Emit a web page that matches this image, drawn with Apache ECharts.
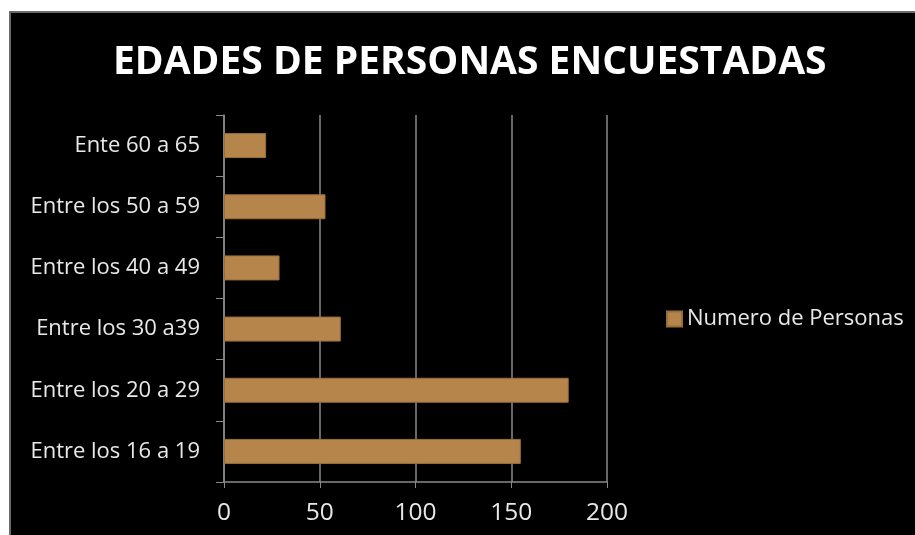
<!DOCTYPE html>
<html>
<head>
<meta charset="utf-8">
<script src="https://cdn.jsdelivr.net/npm/echarts@6/dist/echarts.min.js"></script>
<style>html,body{margin:0;padding:0;background:#fff;}#main{width:915px;height:535px;}</style>
</head>
<body>
<div id="main"></div>
<script>
const titleText = 'EDADES DE PERSONAS ENCUESTADAS';
const categories = ['Entre los 16 a 19', 'Entre los 20 a 29', 'Entre los 30 a39', 'Entre los 40 a 49', 'Entre los 50 a 59', 'Ente 60 a 65'];
const seriesName = 'Numero de Personas';
const values = [155, 180, 61, 29, 53, 22];
const xTicks = [0, 50, 100, 150, 200];

const chart = echarts.init(document.getElementById('main'));
const font = 'Open Sans, Noto Sans, sans-serif';
chart.setOption({
  backgroundColor: '#ffffff',
  animation: false,
  graphic: [{
    type: 'rect', z: -100, silent: true,
    shape: { x: 10, y: 12, width: 920, height: 540 },
    style: { fill: '#000', stroke: '#6a6a6a', lineWidth: 2 }
  }],
  title: {
    text: titleText, left: 108, top: 38,
    textStyle: { color: '#fff', fontSize: 39, fontWeight: 'bold', fontFamily: font }
  },
  legend: {
    data: [seriesName], orient: 'vertical', left: 661, top: 303,
    itemWidth: 15, itemHeight: 15, itemGap: 6,
    icon: 'rect',
    textStyle: { color: '#e8e8e8', fontSize: 22, fontFamily: font }
  },
  grid: { left: 224, right: 308, top: 115, bottom: 53, containLabel: false },
  xAxis: {
    type: 'value', min: xTicks[0], max: xTicks[xTicks.length - 1], interval: 50,
    axisLine: { show: true, lineStyle: { color: '#8a8a8a', width: 1.5 } },
    axisTick: { show: true, length: 6, lineStyle: { color: '#8a8a8a' } },
    splitLine: { show: true, lineStyle: { color: '#8a8a8a', width: 1.5 } },
    axisLabel: { color: '#e8e8e8', fontSize: 24.5, fontFamily: font, margin: 19 }
  },
  yAxis: {
    type: 'category', data: categories,
    axisLine: { show: true, lineStyle: { color: '#8a8a8a', width: 1.5 } },
    axisTick: { show: true, length: 8, alignWithLabel: false, lineStyle: { color: '#8a8a8a' } },
    axisLabel: { color: '#e8e8e8', fontSize: 22, fontFamily: font, margin: 24 }
  },
  series: [{
    name: seriesName, type: 'bar', data: values, barWidth: 25,
    itemStyle: { color: '#b5854b', borderColor: '#9a6e3a', borderWidth: 1 }
  }]
});
</script>
</body>
</html>
